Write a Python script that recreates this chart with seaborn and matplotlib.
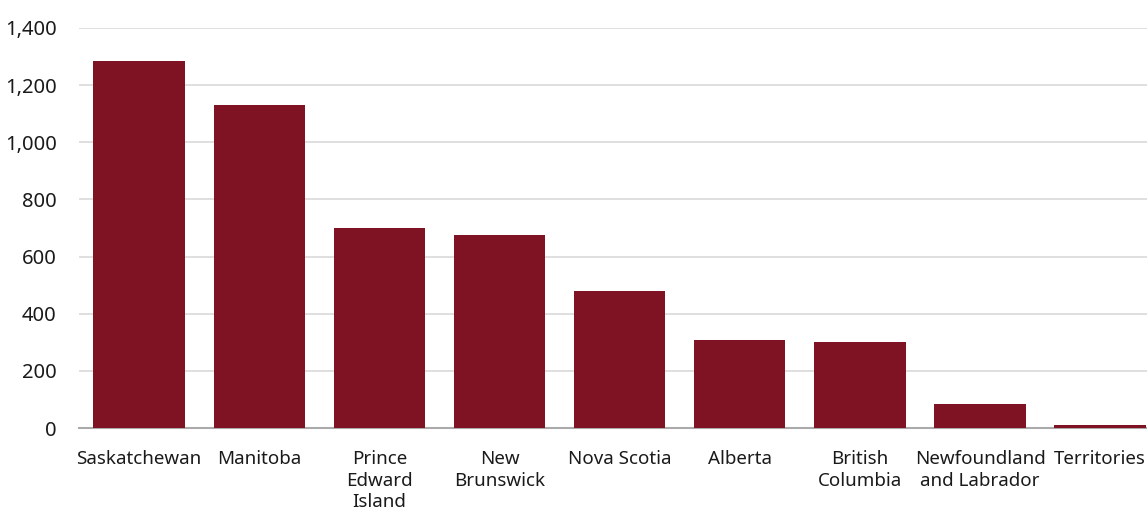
import matplotlib
matplotlib.use("Agg")
import matplotlib.pyplot as plt
import seaborn as sns
import pandas as pd

provinces = ["Saskatchewan", "Manitoba", "Prince\nEdward\nIsland", "New\nBrunswick",
             "Nova Scotia", "Alberta", "British\nColumbia", "Newfoundland\nand Labrador",
             "Territories"]
values = [1284, 1130, 700, 675, 480, 308, 301, 84, 9]
yticks = [0, 200, 400, 600, 800, 1000, 1200, 1400]

sns.set_theme(style="white")
plt.rcParams['font.family'] = ['Noto Sans', 'DejaVu Sans']

df = pd.DataFrame({"province": provinces, "value": values})

fig = plt.figure(figsize=(11.47, 5.08), dpi=100)
ax = fig.add_axes([79/1147, 1 - 428/508, 1 - 79/1147, 400/508])
sns.barplot(data=df, x="province", y="value", color="#7f1323", saturation=1,
            width=0.76, ax=ax, zorder=3, linewidth=0)
ax.set_xlim(-0.5, 8.39)
ax.set_ylim(0, 1400)
ax.set_yticks(yticks)
ax.set_yticklabels([f"{v:,}" for v in yticks])
ax.grid(axis="y", color="#d9d9d9", linewidth=1.2, zorder=0)
ax.set_axisbelow(True)
for s in ["top", "right", "left"]:
    ax.spines[s].set_visible(False)
ax.spines["bottom"].set_color("#aaaaaa")
ax.spines["bottom"].set_linewidth(1.5)
ax.spines["bottom"].set_zorder(2)
ax.tick_params(axis="y", length=0, pad=16, labelsize=14.5, labelcolor="#1a1a1a")
ax.tick_params(axis="x", length=0, pad=16, labelsize=13.5, labelcolor="#1a1a1a")
for lbl in ax.get_xticklabels():
    lbl.set_linespacing(1.25)
ax.set_xlabel("")
ax.set_ylabel("")
fig.savefig("out.png", dpi=100)
